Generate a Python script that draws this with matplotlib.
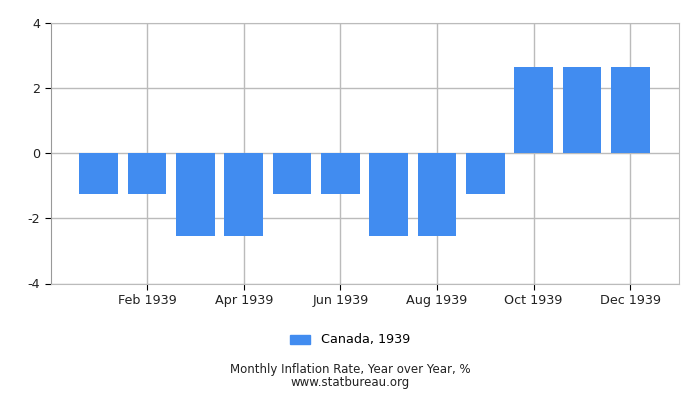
import matplotlib
matplotlib.use('Agg')
import matplotlib.pyplot as plt
from matplotlib.patches import Patch

months = ['Jan 1939', 'Feb 1939', 'Mar 1939', 'Apr 1939', 'May 1939', 'Jun 1939',
          'Jul 1939', 'Aug 1939', 'Sep 1939', 'Oct 1939', 'Nov 1939', 'Dec 1939']
rates = [-1.27, -1.27, -2.53, -2.53, -1.27, -1.27,
         -2.53, -2.53, -1.27, 2.63, 2.63, 2.63]
y_ticks = [-4, -2, 0, 2, 4]

bar_color = '#418cf0'
grid_color = '#bbbbbb'

fig = plt.figure(figsize=(7, 4), dpi=100)
ax = fig.add_axes([50.5 / 700, 1 - 283.5 / 400, 628 / 700, 261 / 400])

x = list(range(1, len(months) + 1))
ax.bar(x, rates, width=0.8, color=bar_color, zorder=3)

ax.set_xlim(0, 13)
ax.set_ylim(-4, 4)
ax.set_yticks(y_ticks)
ax.set_yticklabels([str(t) for t in y_ticks])
ax.set_xticks(x[1::2])
ax.set_xticklabels(months[1::2])
ax.tick_params(labelsize=9.2, length=4, color='black', colors='#222222')
ax.grid(True, color=grid_color, linewidth=1, zorder=0)
for s in ax.spines.values():
    s.set_color(grid_color)
ax.spines['left'].set_color('#999999')

handles = [Patch(color=bar_color, label='Canada, 1939')]
fig.legend(handles=handles, loc='center', bbox_to_anchor=(0.5, 1 - 340 / 400),
           frameon=False, fontsize=9.2, handlelength=1.6, handleheight=0.7)

fig.text(0.5, 1 - 376 / 400,
         'Monthly Inflation Rate, Year over Year, %\nwww.statbureau.org',
         ha='center', va='center', fontsize=8.5, color='#222222',
         linespacing=0.95)

fig.savefig('out.png', dpi=100)
